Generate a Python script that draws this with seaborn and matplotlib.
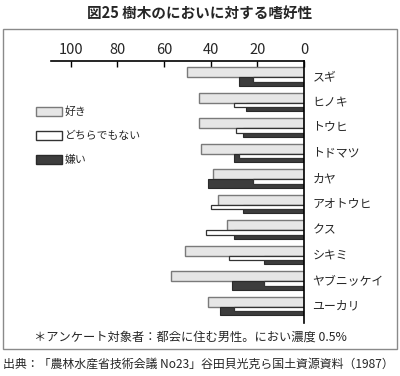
# 図25 樹木のにおいに対する嗜好性 -- 横棒グラフ (seaborn)
import pandas as pd
import matplotlib
matplotlib.use("Agg")
import matplotlib.pyplot as plt
from matplotlib.patches import Patch, Rectangle
import seaborn as sns

# データ (%)
trees = ['スギ', 'ヒノキ', 'トウヒ', 'トドマツ', 'カヤ',
         'アオトウヒ', 'クス', 'シキミ', 'ヤブニッケイ', 'ユーカリ']
like = [50, 45, 45, 44, 39, 37, 33, 51, 57, 41]
neutral = [22, 30, 29, 28, 22, 40, 42, 32, 17, 30]
dislike = [28, 25, 26, 30, 41, 26, 30, 17, 31, 36]
xticks = [100, 80, 60, 40, 20, 0]

sns.set_theme(style='white')
plt.rcParams['font.family'] = ['Noto Sans CJK JP', 'DejaVu Sans']

idx = list(range(len(trees)))
df = pd.DataFrame({'tree': trees, 'idx': idx,
                   'like': like, 'neutral': neutral, 'dislike': dislike})

W, H = 400, 376
fig = plt.figure(figsize=(W / 100, H / 100), dpi=100)
ax = fig.add_axes([51 / W, 1 - 323 / H, 253 / W, 262 / H])

# 好き (上)、嫌い (下)、どちらでもない (下に重ねる)
sns.barplot(x=df['like'], y=df['idx'] - 0.195, orient='y', native_scale=True,
            width=0.39, color='#e6e6e6', edgecolor='#7a7a7a', linewidth=1,
            saturation=1, ax=ax)
sns.barplot(x=df['dislike'], y=df['idx'] + 0.17, orient='y', native_scale=True,
            width=0.34, color='#3d3d3d', edgecolor='#2a2a2a', linewidth=0.8,
            saturation=1, ax=ax)
sns.barplot(x=df['neutral'], y=df['idx'] + 0.085, orient='y', native_scale=True,
            width=0.17, color='white', edgecolor='#333333', linewidth=0.9,
            saturation=1, ax=ax)

ax.set_xlim(108.4, 0)
ax.set_ylim(9.64, -0.64)
ax.set_xlabel('')
ax.set_ylabel('')

ax.xaxis.tick_top()
ax.set_xticks(xticks)
ax.set_xticklabels([str(t) for t in xticks])
ax.tick_params(axis='x', direction='in', length=4, width=1, color='black',
               labelsize=10.5, pad=3, top=True, bottom=False)

ax.yaxis.tick_right()
ax.set_yticks([i - 0.08 for i in idx])
ax.set_yticklabels(trees)
ax.tick_params(axis='y', length=0, labelsize=8.6, pad=6, right=False, left=False)

for s in ['left', 'bottom']:
    ax.spines[s].set_visible(False)
for s in ['top', 'right']:
    ax.spines[s].set_visible(True)
    ax.spines[s].set_color('black')
    ax.spines[s].set_linewidth(1.2)

# 凡例 (行間 24px、最初の四角の左上を (36, 107) に合わせる)
handles = [Patch(facecolor='#e6e6e6', edgecolor='#7a7a7a', label='好き'),
           Patch(facecolor='white', edgecolor='#333333', label='どちらでもない'),
           Patch(facecolor='#3d3d3d', edgecolor='#2a2a2a', label='嫌い')]
leg_fs = 7.8


def make_legend(x, y, spacing):
    return fig.legend(handles=handles, loc='upper left', bbox_to_anchor=(x / W, 1 - y / H),
                      frameon=False, fontsize=leg_fs, handlelength=2.4, handleheight=0.92,
                      handletextpad=0.2, labelspacing=spacing, borderaxespad=0, borderpad=0)


spacing = 0.8
leg = make_legend(36, 107, spacing)
fig.canvas.draw()
r = fig.canvas.get_renderer()
pb = [p.get_window_extent(r) for p in leg.get_patches()]
pitch = pb[0].y0 - pb[1].y0
spacing = spacing + (24 - pitch) / (leg_fs * 100 / 72)
leg.remove()
leg = make_legend(36, 107, spacing)
fig.canvas.draw()
pb = leg.get_patches()[0].get_window_extent(r)
dx = 36 - pb.x0
dy = (H - 107) - pb.y1
leg.remove()
leg = make_legend(36 + dx, 107 - dy, spacing)

# 枠
fig.patches.append(Rectangle((3 / W, 1 - 349 / H), 394 / W, 320 / H,
                             transform=fig.transFigure, fill=False,
                             edgecolor='#8a8a8a', linewidth=1))

fig.text(0.5, 1 - 13 / H, '図25 樹木のにおいに対する嗜好性', ha='center', va='center',
         fontsize=10.5, fontweight='bold')
fig.text(34 / W, 1 - 337 / H, '＊アンケート対象者：都会に住む男性。におい濃度 0.5%',
         ha='left', va='center', fontsize=8.8)
fig.text(3 / W, 1 - 364 / H, '出典：「農林水産省技術会議 No23」谷田貝光克ら国土資源資料（1987）',
         ha='left', va='center', fontsize=8.6)

fig.savefig('out.png', dpi=100)
